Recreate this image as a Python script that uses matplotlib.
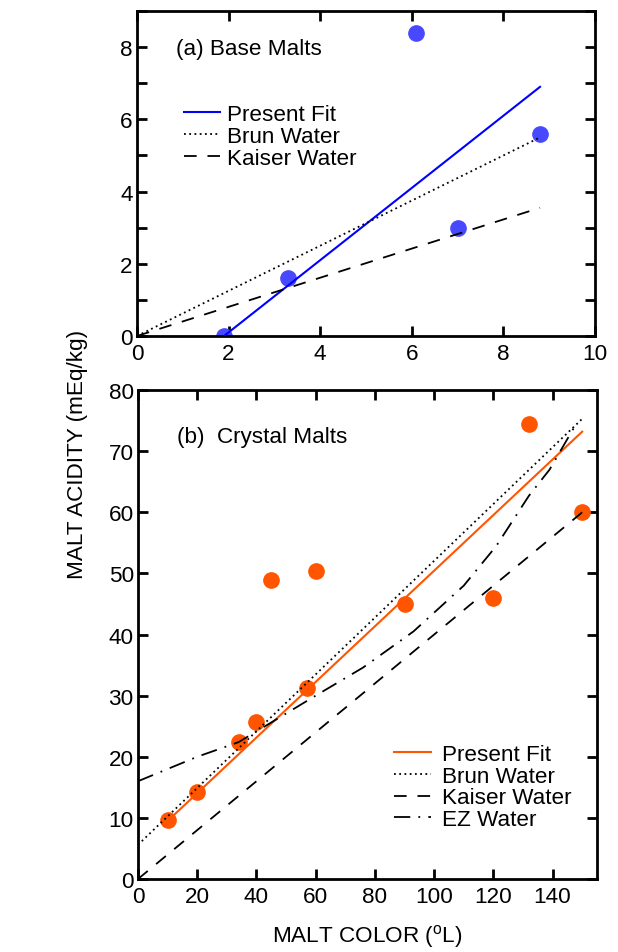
import matplotlib.pyplot as plt
from matplotlib.ticker import MultipleLocator

plt.rcParams['font.family'] = ['Liberation Sans', 'DejaVu Sans']
plt.rcParams['mathtext.fontset'] = 'custom'
plt.rcParams['mathtext.rm'] = 'Liberation Sans'

# (a) base malts
base_color = [1.9, 3.3, 6.1, 7.0, 8.8]
base_acid = [0.0, 1.6, 8.4, 3.0, 5.6]
base_fit_x = [1.9, 8.8]
base_fit_y = [0.0, 6.9]
base_brun_x = [0.0, 8.8]
base_brun_y = [0.0, 5.5]
base_kaiser_x = [0.0, 8.8]
base_kaiser_y = [0.0, 3.55]

# (b) crystal malts
cryst_color = [10, 20, 34, 40, 45, 57, 60, 90, 120, 132, 150]
cryst_acid = [9.7, 14.2, 22.4, 25.7, 49.0, 31.2, 50.4, 45.0, 46.0, 74.5, 60.0]
cryst_fit_x = [10, 150]
cryst_fit_y = [9.5, 73.2]
cryst_brun_x = [0, 150]
cryst_brun_y = [5.6, 75.3]
cryst_kaiser_x = [0, 150]
cryst_kaiser_y = [0.0, 60.0]
cryst_ez_x = [0, 20, 34, 47, 60, 76, 93, 110, 121, 132, 139, 148]
cryst_ez_y = [16.0, 20.0, 22.4, 26.2, 30.0, 34.6, 40.5, 48.0, 54.5, 62.7, 67.0, 74.5]

blue_pt = '#4848ff'
blue_ln = '#0000ff'
orange = '#ff5500'

FS = 16.2
LW = 1.3
DOT = (0, (1, 1.9))
DASH = (0, (7, 6))
DASHDOT = (0, (9, 4.5, 1, 4.5))

fig = plt.figure(figsize=(6.18, 9.53), dpi=100)
axA = fig.add_axes([0.2217, 0.6464, 0.7411, 0.341])
axB = fig.add_axes([0.2233, 0.0766, 0.7427, 0.513])

def style(ax):
    for s in ax.spines.values():
        s.set_linewidth(2.0)
    ax.tick_params(which='both', direction='in', top=True, right=True,
                   width=2.0, length=7, labelsize=FS)
    ax.tick_params(axis='x', pad=5)
    ax.tick_params(axis='y', pad=3)

# panel (a)
axA.plot(base_color, base_acid, 'o', color=blue_pt, markersize=11, zorder=2)
axA.plot(base_fit_x, base_fit_y, color=blue_ln, lw=1.5, label='Present Fit', zorder=3)
axA.plot(base_brun_x, base_brun_y, color='black', lw=LW, ls=DOT, label='Brun Water', zorder=3)
axA.plot(base_kaiser_x, base_kaiser_y, color='black', lw=LW, ls=DASH, label='Kaiser Water', zorder=3)
axA.set_xlim(0, 10)
axA.set_ylim(0, 9)
axA.xaxis.set_major_locator(MultipleLocator(2))
axA.yaxis.set_major_locator(MultipleLocator(2))
axA.yaxis.set_minor_locator(MultipleLocator(1))
style(axA)
axA.text(0.085, 0.885, '(a) Base Malts', transform=axA.transAxes, fontsize=FS, va='center')
axA.legend(loc='upper left', bbox_to_anchor=(0.103, 0.713), frameon=False, fontsize=FS,
           handlelength=1.6, handletextpad=0.3, labelspacing=0.03, borderaxespad=0,
           borderpad=0)

# panel (b)
axB.plot(cryst_color, cryst_acid, 'o', color=orange, markersize=11, zorder=2)
axB.plot(cryst_fit_x, cryst_fit_y, color=orange, lw=1.5, label='Present Fit', zorder=3)
axB.plot(cryst_brun_x, cryst_brun_y, color='black', lw=LW, ls=DOT, label='Brun Water', zorder=3)
axB.plot(cryst_kaiser_x, cryst_kaiser_y, color='black', lw=LW, ls=DASH, label='Kaiser Water', zorder=3)
axB.plot(cryst_ez_x, cryst_ez_y, color='black', lw=LW, ls=DASHDOT, label='EZ Water', zorder=3)
axB.set_xlim(0, 155)
axB.set_ylim(0, 80)
axB.xaxis.set_major_locator(MultipleLocator(20))
axB.yaxis.set_major_locator(MultipleLocator(10))
style(axB)
axB.text(0.085, 0.906, '(b)  Crystal Malts', transform=axB.transAxes, fontsize=FS, va='center')
axB.legend(loc='upper left', bbox_to_anchor=(0.558, 0.276), frameon=False, fontsize=FS,
           handlelength=1.65, handletextpad=0.5, labelspacing=0.03, borderaxespad=0,
           borderpad=0)

axB.set_xlabel('MALT COLOR ($^{\\rm o}$L)', fontsize=FS, labelpad=11)
fig.text(0.125, 0.523, 'MALT ACIDITY (mEq/kg)', rotation=90, fontsize=FS,
         ha='center', va='center')

fig.savefig('out.png', dpi=100)
